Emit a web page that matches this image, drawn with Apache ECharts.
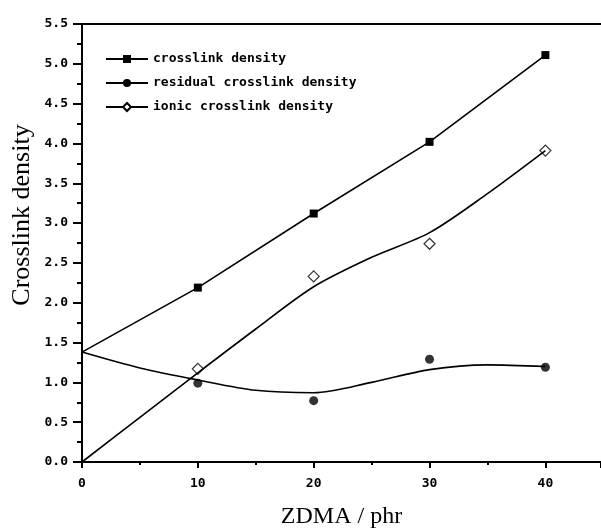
<!DOCTYPE html>
<html>
<head>
<meta charset="utf-8">
<script src="https://cdn.jsdelivr.net/npm/echarts@6/dist/echarts.min.js"></script>
<style>
  html, body { margin: 0; padding: 0; background: #fff; }
  #main { width: 601px; height: 528px; }
</style>
</head>
<body>
<div id="main"></div>
<script>
// measured points
var xValues = [10, 20, 30, 40];
var crosslink = [2.19, 3.12, 4.02, 5.11];
var crosslinkStart = 1.38; // line starts on the y axis
var residual = [0.99, 0.77, 1.29, 1.19];
var ionic = [1.17, 2.33, 2.74, 3.91];

// fitted curves
var fitX = [0, 5, 10, 15, 20, 25, 30, 35, 40];
var residualFit = [1.38, 1.18, 1.03, 0.9, 0.87, 1.0, 1.16, 1.22, 1.2];
var ionicFit = [0, 0.56, 1.12, 1.67, 2.2, 2.57, 2.88, 3.37, 3.91];

var names = ["crosslink density", "residual crosslink density", "ionic crosslink density"];

function pairs(xs, ys) {
  return xs.map(function (x, i) { return [x, ys[i]]; });
}

var crosslinkData = [{ value: [0, crosslinkStart], symbol: "none" }].concat(pairs(xValues, crosslink));

var tickFont = { fontFamily: "DejaVu Sans Mono", fontWeight: "bold", fontSize: 13, color: "#000" };

var myChart = echarts.init(document.getElementById("main"));

myChart.setOption({
  animation: false,
  backgroundColor: "#fff",
  grid: { left: 82, right: 0, top: 24, bottom: 66, outerBoundsMode: "none", containLabel: false },
  legend: {
    orient: "vertical",
    left: 100,
    top: 47,
    itemWidth: 42,
    itemHeight: 10,
    itemGap: 10,
    data: names,
    textStyle: { fontFamily: "DejaVu Sans Mono", fontWeight: "bold", fontSize: 13, color: "#000", lineHeight: 14 }
  },
  graphic: [{
    type: "text",
    x: 22,
    y: 215,
    rotation: Math.PI / 2,
    style: {
      text: "Crosslink density",
      font: "26px 'Liberation Serif'",
      fill: "#000",
      textAlign: "center",
      textVerticalAlign: "middle"
    }
  }],
  xAxis: [{
    type: "value",
    min: 0,
    max: 44.8,
    interval: 10,
    name: "ZDMA / phr",
    nameLocation: "middle",
    nameGap: 43,
    nameTextStyle: { fontFamily: "Liberation Serif", fontSize: 24, color: "#000" },
    axisLine: { lineStyle: { color: "#000", width: 2 } },
    axisTick: { length: 6, lineStyle: { color: "#000", width: 2 } },
    minorTick: { show: true, splitNumber: 2, length: 3, lineStyle: { color: "#000", width: 2 } },
    splitLine: { show: false },
    axisLabel: Object.assign({ margin: 15, showMaxLabel: false }, tickFont)
  }, {
    type: "value",
    position: "top",
    min: 0,
    max: 44.8,
    axisLine: { show: true, onZero: false, lineStyle: { color: "#000", width: 2 } },
    axisTick: { show: false },
    axisLabel: { show: false },
    splitLine: { show: false }
  }],
  yAxis: {
    type: "value",
    min: 0,
    max: 5.5,
    interval: 0.5,
    axisLine: { show: true, lineStyle: { color: "#000", width: 2 } },
    axisTick: { show: true, length: 9, lineStyle: { color: "#000", width: 2 } },
    minorTick: { show: true, splitNumber: 2, length: 5, lineStyle: { color: "#000", width: 2 } },
    splitLine: { show: false },
    axisLabel: Object.assign({ margin: 14, formatter: function (v) { return v.toFixed(1); } }, tickFont)
  },
  series: [
    {
      name: names[0],
      type: "line",
      data: crosslinkData,
      symbol: "rect",
      symbolSize: 8,
      itemStyle: { color: "#000" },
      lineStyle: { color: "#000", width: 1.6 }
    },
    {
      name: names[1],
      type: "line",
      data: pairs(fitX, residualFit),
      smooth: 0.3,
      symbol: "circle",
      symbolSize: 9,
      showSymbol: false,
      itemStyle: { color: "#000" },
      lineStyle: { color: "#000", width: 1.6 }
    },
    {
      name: names[1],
      type: "scatter",
      data: pairs(xValues, residual),
      symbol: "circle",
      symbolSize: 9,
      itemStyle: { color: "#000" }
    },
    {
      name: names[2],
      type: "line",
      data: pairs(fitX, ionicFit),
      smooth: 0.3,
      symbol: "diamond",
      symbolSize: 11,
      showSymbol: false,
      itemStyle: { color: "#fff", borderColor: "#000", borderWidth: 1.2 },
      lineStyle: { color: "#000", width: 1.6 }
    },
    {
      name: names[2],
      type: "scatter",
      data: pairs(xValues, ionic),
      symbol: "diamond",
      symbolSize: 11,
      itemStyle: { color: "#fff", borderColor: "#000", borderWidth: 1.2 }
    }
  ]
});
</script>
</body>
</html>
